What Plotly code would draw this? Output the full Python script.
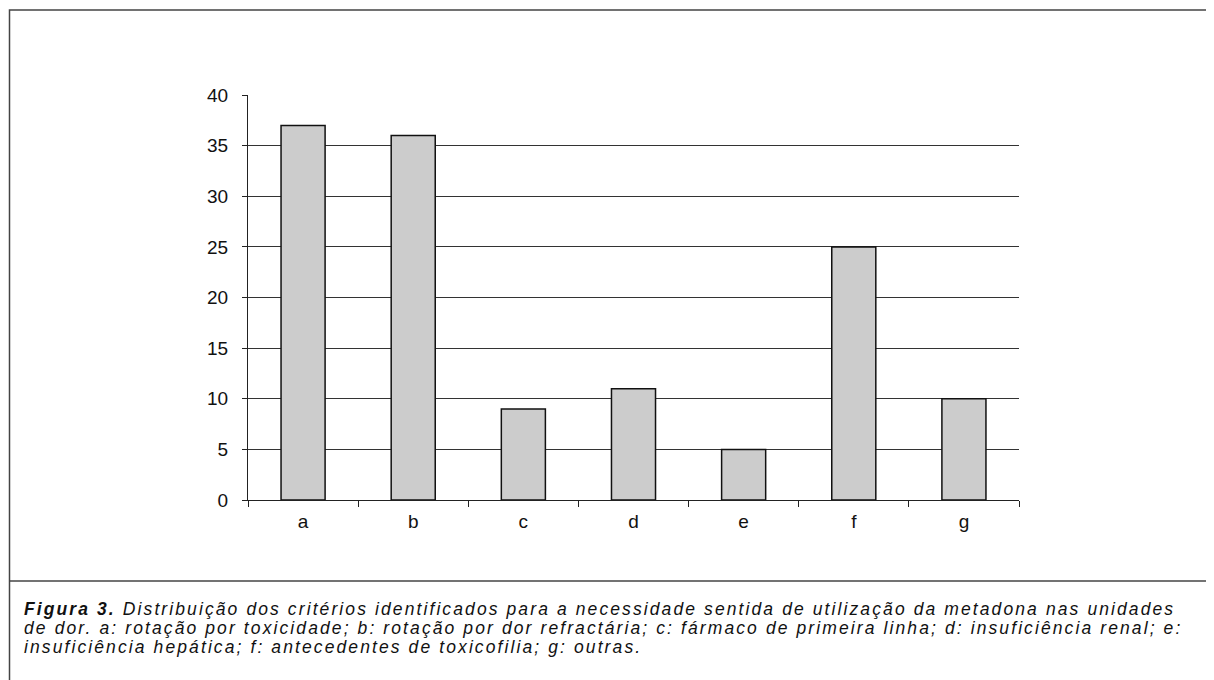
import plotly.graph_objects as go

categories = ["a", "b", "c", "d", "e", "f", "g"]
values = [37, 36, 9, 11, 5, 25, 10]
y_ticks = [0, 5, 10, 15, 20, 25, 30, 35, 40]

caption_lines = [
    "<b>Figura 3.</b> Distribuição dos critérios identificados para a necessidade sentida de utilização da metadona nas unidades",
    "de dor. a: rotação por toxicidade; b: rotação por dor refractária; c: fármaco de primeira linha; d: insuficiência renal; e:",
    "insuficiência hepática; f: antecedentes de toxicofilia; g: outras.",
]

# page body margin offset (browser default 8px)
OFF = 8
W, H = 1214 - OFF, 680 - OFF
# plot area in page pixels: x 248..1019, y 95..500
L, R, T, B = 248 - OFF, 1214 - 1019, 95 - OFF, 680 - 500
pw, ph = W - L - R, H - T - B


def px_x(px):
    return (px - OFF - L) / pw


def px_y(py):
    return (H - B - (py - OFF)) / ph


fig = go.Figure()
fig.add_trace(go.Bar(
    x=categories, y=values,
    marker=dict(color="#cccccc", line=dict(color="#111111", width=1.5)),
    width=0.4,
))

font = "Liberation Sans, Arial, sans-serif"

caption_y = [609, 628, 647]
annotations = []
for line, yy in zip(caption_lines, caption_y):
    annotations.append(dict(
        text='<i><span style="letter-spacing:2.1px">' + line + '</span></i>',
        xref="paper", yref="paper", x=px_x(22), y=px_y(yy),
        xanchor="left", yanchor="middle", align="left", showarrow=False,
        font=dict(family=font, size=17.5, color="#111111"),
    ))

fig.update_layout(
    width=W, height=H,
    margin=dict(l=L, r=R, t=T, b=B, pad=0),
    paper_bgcolor="white", plot_bgcolor="white",
    showlegend=False,
    font=dict(family=font, size=19, color="#111111"),
    xaxis=dict(
        showgrid=False, showline=True, linecolor="#222222", linewidth=1.2,
        ticks="outside", tickson="boundaries", ticklen=6, tickcolor="#222222",
        tickfont=dict(size=19, family=font, color="#111111"),
        ticklabelstandoff=4,
    ),
    yaxis=dict(
        range=[0, 40], tickvals=y_ticks,
        showgrid=True, gridcolor="#333333", gridwidth=1,
        showline=True, linecolor="#222222", linewidth=1.2,
        ticks="outside", ticklen=5, tickcolor="#222222",
        tickfont=dict(size=19, family=font, color="#111111"),
        ticklabelstandoff=10,
        zeroline=False,
    ),
    shapes=[
        dict(type="rect", xref="paper", yref="paper",
             x0=px_x(9.5), x1=px_x(1240), y0=px_y(10), y1=px_y(720),
             line=dict(color="#444444", width=1.5), fillcolor="rgba(0,0,0,0)", layer="below"),
        dict(type="line", xref="paper", yref="paper",
             x0=px_x(9.5), x1=px_x(1240), y0=px_y(581), y1=px_y(581),
             line=dict(color="#444444", width=1.5)),
    ],
    annotations=annotations,
)

fig.write_html("out.html")
